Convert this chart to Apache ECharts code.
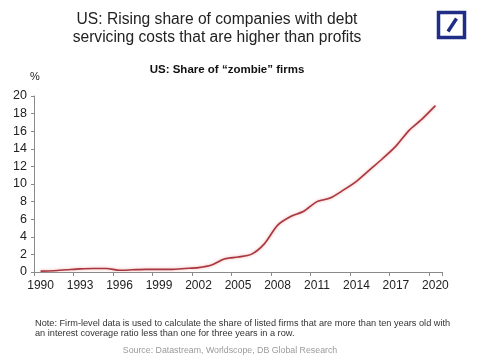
<!DOCTYPE html>
<html>
<head>
<meta charset="utf-8">
<script src="https://cdn.jsdelivr.net/npm/echarts@6/dist/echarts.min.js"></script>
<style>
html,body{margin:0;padding:0;background:#fff;}
#chart{width:484px;height:356px;}
</style>
</head>
<body>
<div id="chart"></div>
<script>
const years = ['1990','1991','1992','1993','1994','1995','1996','1997','1998','1999','2000','2001','2002','2003','2004','2005','2006','2007','2008','2009','2010','2011','2012','2013','2014','2015','2016','2017','2018','2019','2020'];
const zombieShare = [0.1,0.15,0.25,0.35,0.4,0.4,0.2,0.25,0.3,0.3,0.3,0.4,0.5,0.8,1.5,1.7,2.0,3.2,5.3,6.3,6.9,8.0,8.4,9.3,10.3,11.6,12.9,14.3,16.1,17.4,18.9];
const yTicks = {min: 0, max: 20, interval: 2};

const chart = echarts.init(document.getElementById('chart'));
const font = 'Liberation Sans, Arial, sans-serif';
chart.setOption({
  animation: false,
  backgroundColor: '#ffffff',
  grid: {left: 34, right: 42, top: 96, bottom: 84, containLabel: false},
  xAxis: {
    type: 'category',
    data: years,
    boundaryGap: true,
    axisLine: {show: true, lineStyle: {color: '#8a8a8a', width: 1}},
    axisTick: {show: true, interval: 2, length: 4, lineStyle: {color: '#8a8a8a'}},
    axisLabel: {interval: 2, color: '#222', fontSize: 12, fontFamily: font, margin: 8},
    splitLine: {show: false}
  },
  yAxis: {
    type: 'value',
    min: yTicks.min, max: yTicks.max, interval: yTicks.interval,
    axisLine: {show: true, lineStyle: {color: '#8a8a8a', width: 1}},
    axisTick: {show: true, length: 3, lineStyle: {color: '#8a8a8a'}},
    axisLabel: {color: '#222', fontSize: 12.5, fontFamily: font, margin: 7},
    splitLine: {show: false}
  },
  series: [{
    type: 'line',
    data: zombieShare,
    showSymbol: false,
    smooth: 0.25,
    lineStyle: {color: '#a8383f', width: 1.6, shadowColor: 'rgba(235,130,130,0.7)', shadowBlur: 3}
  }],
  graphic: [
    {type: 'text', style: {text: 'US: Rising share of companies with debt', fontSize: 15.6, fontFamily: font, fill: '#222', textAlign: 'center', textVerticalAlign: 'middle'}, x: 217, y: 20},
    {type: 'text', style: {text: 'servicing costs that are higher than profits', fontSize: 15.6, fontFamily: font, fill: '#222', textAlign: 'center', textVerticalAlign: 'middle'}, x: 217, y: 38},
    {type: 'text', style: {text: 'US: Share of \u201czombie\u201d firms', fontSize: 11.5, fontWeight: 'bold', fontFamily: font, fill: '#111', textAlign: 'center', textVerticalAlign: 'middle'}, x: 227, y: 70},
    {type: 'text', style: {text: '%', fontSize: 11, fontFamily: font, fill: '#222', textAlign: 'center', textVerticalAlign: 'middle'}, x: 35, y: 77},
    {type: 'text', style: {text: 'Note: Firm-level data is used to calculate the share of listed firms that are more than ten years old with\nan interest coverage ratio less than one for three years in a row.', fontSize: 9.2, lineHeight: 9.5, fontFamily: font, fill: '#333', textAlign: 'left', textVerticalAlign: 'middle'}, x: 35, y: 328.5},
    {type: 'text', style: {text: 'Source: Datastream, Worldscope, DB Global Research', fontSize: 8.8, fontFamily: font, fill: '#9a9a9a', textAlign: 'center', textVerticalAlign: 'middle'}, x: 230, y: 351},
    {type: 'rect', shape: {x: 438.5, y: 12.5, width: 26, height: 25}, style: {fill: 'none', stroke: '#1f2d86', lineWidth: 3.5}},
    {type: 'line', shape: {x1: 448, y1: 31.5, x2: 456.5, y2: 18.5}, style: {stroke: '#1f2d86', lineWidth: 3.5}}
  ]
});
</script>
</body>
</html>
